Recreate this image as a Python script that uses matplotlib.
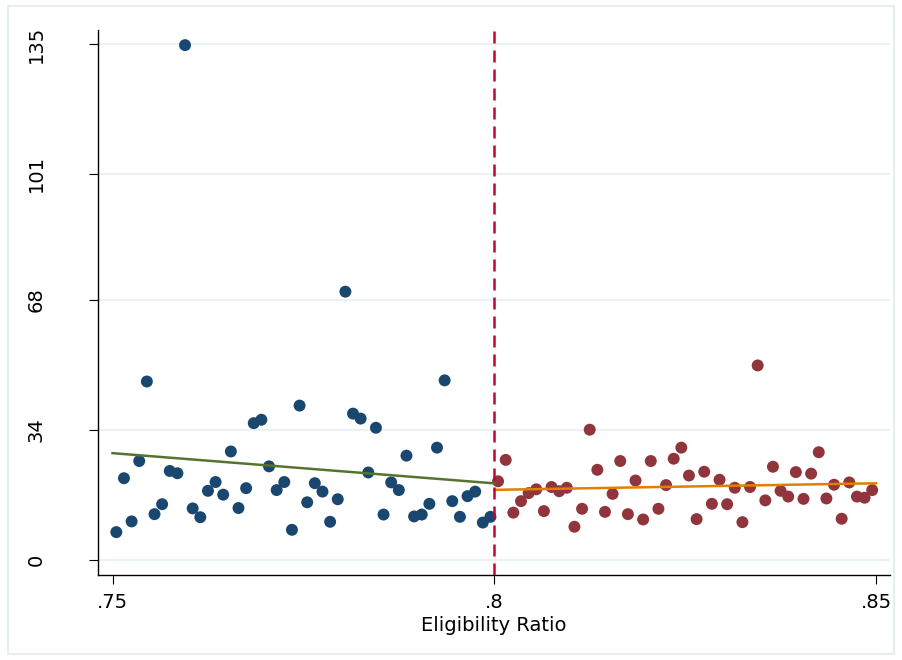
import numpy as np
import matplotlib
matplotlib.use("Agg")
import matplotlib.pyplot as plt
from matplotlib.patches import Rectangle

# ---- data ----
x_left = [0.7505, 0.7515, 0.7525, 0.7535, 0.7545, 0.7555, 0.7565, 0.7575, 0.7585, 0.7595,
          0.7605, 0.7615, 0.7625, 0.7635, 0.7645, 0.7655, 0.7665, 0.7675, 0.7685, 0.7695,
          0.7705, 0.7715, 0.7725, 0.7735, 0.7745, 0.7755, 0.7765, 0.7775, 0.7785, 0.7795,
          0.7805, 0.7815, 0.7825, 0.7835, 0.7845, 0.7855, 0.7865, 0.7875, 0.7885, 0.7895,
          0.7905, 0.7915, 0.7925, 0.7935, 0.7945, 0.7955, 0.7965, 0.7975, 0.7985, 0.7995]
y_left = [7.3, 21.4, 10.1, 25.9, 46.7, 12.0, 14.6, 23.3, 22.7, 134.7,
          13.5, 11.2, 18.1, 20.4, 17.1, 28.4, 13.6, 18.8, 35.8, 36.7,
          24.5, 18.3, 20.4, 7.9, 40.4, 15.1, 20.1, 17.9, 10.0, 15.9,
          70.2, 38.3, 37.0, 22.9, 34.6, 11.9, 20.3, 18.3, 27.3, 11.4,
          11.9, 14.7, 29.4, 47.0, 15.4, 11.3, 16.7, 17.9, 9.8, 11.3]

x_right = [0.8005, 0.8015, 0.8025, 0.8035, 0.8045, 0.8055, 0.8065, 0.8075, 0.8085, 0.8095,
           0.8105, 0.8115, 0.8125, 0.8135, 0.8145, 0.8155, 0.8165, 0.8175, 0.8185, 0.8195,
           0.8205, 0.8215, 0.8225, 0.8235, 0.8245, 0.8255, 0.8265, 0.8275, 0.8285, 0.8295,
           0.8305, 0.8315, 0.8325, 0.8335, 0.8345, 0.8355, 0.8365, 0.8375, 0.8385, 0.8395,
           0.8405, 0.8415, 0.8425, 0.8435, 0.8445, 0.8455, 0.8465, 0.8475, 0.8485, 0.8495]
y_right = [20.6, 26.2, 12.4, 15.4, 17.5, 18.5, 12.8, 19.1, 18.0, 18.9,
           8.7, 13.4, 34.1, 23.6, 12.6, 17.3, 25.9, 12.0, 20.8, 10.6,
           25.9, 13.4, 19.6, 26.5, 29.4, 22.1, 10.7, 23.1, 14.7, 21.0,
           14.6, 18.9, 9.9, 19.1, 50.9, 15.6, 24.4, 18.1, 16.6, 23.0,
           16.0, 22.6, 28.2, 16.1, 19.7, 10.8, 20.3, 16.6, 16.3, 18.3]

cutoff = 0.8
x_ticks = [0.75, 0.80, 0.85]
x_ticklabels = [".75", ".8", ".85"]
y_ticks = [0, 34, 68, 101, 135]
y_ticklabels = ["0", "34", "68", "101", "135"]
x_label = "Eligibility Ratio"

# ---- style ----
plt.rcParams['font.family'] = ['DejaVu Sans']
FS = 14
blue = '#1a476f'
maroon = '#90353b'
green = '#55752f'
orange = '#e37e00'
cranberry = '#c10534'
gridc = '#eaf2f3'

W, H = 902, 660
fig = plt.figure(figsize=(W / 100, H / 100), dpi=100)
fig.patch.set_facecolor('white')
fig.add_artist(Rectangle((8 / W, 6 / H), (W - 16) / W, (H - 12) / H,
                         transform=fig.transFigure, fill=False,
                         edgecolor='#e6eef2', linewidth=1.5))

ax = fig.add_axes([98 / W, 1 - 574.5 / H, (890 - 98) / W, (574.5 - 30) / H])
ax.set_xlim(0.74810, 0.85183)
ax.set_ylim(-3.79, 138.66)

for yt in y_ticks:
    ax.axhline(yt, color=gridc, linewidth=1.5, zorder=0)

ax.scatter(x_left, y_left, s=74, color=blue, edgecolors='none', zorder=3)
ax.scatter(x_right, y_right, s=74, color=maroon, edgecolors='none', zorder=3)

# linear fits on each side
bl = np.polyfit(x_left, y_left, 1)
br = np.polyfit(x_right, y_right, 1)
xl = np.array([0.75, cutoff])
xr = np.array([cutoff, 0.85])
ax.plot(xl, np.polyval(bl, xl), color=green, linewidth=1.8, zorder=4)
ax.plot(xr, np.polyval(br, xr), color=orange, linewidth=1.8, zorder=4)

ax.axvline(cutoff, color=cranberry, linewidth=1.8, linestyle=(0, (4.8, 2.8)), zorder=5)

for s in ['top', 'right']:
    ax.spines[s].set_visible(False)
for s in ['left', 'bottom']:
    ax.spines[s].set_linewidth(1.0)
    ax.spines[s].set_color('black')

ax.set_xticks(x_ticks)
ax.set_xticklabels(x_ticklabels, fontsize=FS)
ax.set_yticks(y_ticks)
ax.set_yticklabels(y_ticklabels, fontsize=FS, rotation=90, va='center')
ax.tick_params(axis='x', length=6.5, width=0.8, pad=7)
ax.tick_params(axis='y', length=6.5, width=0.8, pad=31)
ax.set_xlabel(x_label, fontsize=FS, labelpad=3)

fig.savefig('out.png', dpi=100)
